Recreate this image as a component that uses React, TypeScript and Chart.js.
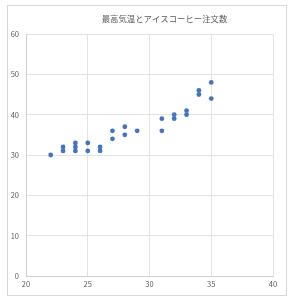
import React, { useEffect, useRef } from "react";
import { Chart, registerables } from "chart.js";

Chart.register(...registerables);

const TITLE = "最高気温とアイスコーヒー注文数";
const temperatures = [22, 23, 23, 24, 24, 24, 25, 25, 26, 26, 27, 27, 28, 28, 29, 31, 31, 32, 32, 33, 33, 34, 34, 35, 35];
const orders = [30, 32, 31, 33, 32, 31, 33, 31, 32, 31, 36, 34, 37, 35, 36, 39, 36, 40, 39, 41, 40, 46, 45, 48, 44];
const xTicks = [20, 25, 30, 35, 40];
const yTicks = [0, 10, 20, 30, 40, 50, 60];

const FONT = "'Noto Sans CJK JP', 'Noto Sans', sans-serif";

export default function App() {
  const ref = useRef<HTMLCanvasElement | null>(null);

  useEffect(() => {
    document.body.style.margin = "0";
    const canvas = ref.current;
    if (!canvas) return;

    const framePlugin = {
      id: "frame",
      beforeDraw(chart: any) {
        const ctx = chart.ctx;
        ctx.save();
        ctx.fillStyle = "#ffffff";
        ctx.fillRect(0, 0, chart.width, chart.height);
        ctx.strokeStyle = "#d9d9d9";
        ctx.lineWidth = 1;
        ctx.strokeRect(7.5, 5.5, 279, 290);
        ctx.restore();
      },
      afterDraw(chart: any) {
        const ctx = chart.ctx;
        ctx.save();
        ctx.fillStyle = "#595959";
        ctx.font = `8.4px ${FONT}`;
        ctx.textAlign = "center";
        ctx.textBaseline = "middle";
        const ca = chart.chartArea;
        ctx.fillText(TITLE, (ca.left + ca.right) / 2 + 15, 19);
        ctx.restore();
      },
    };

    const chart = new Chart(canvas, {
      type: "scatter",
      data: {
        datasets: [
          {
            label: TITLE,
            data: temperatures.map((t, i) => ({ x: t, y: orders[i] })),
            backgroundColor: "#4472C4",
            borderColor: "#4472C4",
            pointRadius: 2.4,
            pointHoverRadius: 2.4,
            borderWidth: 0,
          },
        ],
      },
      options: {
        animation: false,
        responsive: false,
        devicePixelRatio: 1,
        layout: { padding: { left: 0, right: 19, top: 34, bottom: 0 } },
        plugins: {
          legend: { display: false },
          title: { display: false },
          tooltip: { enabled: false },
        },
        scales: {
          x: {
            type: "linear",
            min: xTicks[0],
            max: xTicks[xTicks.length - 1],
            afterFit(scale: any) {
              scale.height = 26;
            },
            afterBuildTicks(scale: any) {
              scale.ticks = xTicks.map((v) => ({ value: v }));
            },
            grid: { color: "#e3e3e3", lineWidth: 1, drawTicks: false },
            border: { color: "#d0d0d0" },
            ticks: {
              padding: 4,
              color: "#595959",
              font: { size: 7.5, family: FONT },
              maxRotation: 0,
            },
          },
          y: {
            type: "linear",
            min: yTicks[0],
            max: yTicks[yTicks.length - 1],
            afterFit(scale: any) {
              scale.width = 26;
            },
            afterBuildTicks(scale: any) {
              scale.ticks = yTicks.map((v) => ({ value: v }));
            },
            grid: { color: "#e3e3e3", lineWidth: 1, drawTicks: false },
            border: { color: "#d0d0d0" },
            ticks: {
              padding: 7,
              color: "#595959",
              font: { size: 7.5, family: FONT },
            },
          },
        },
      },
      plugins: [framePlugin],
    });

    return () => chart.destroy();
  }, []);

  return (
    <div style={{ width: 292, height: 302 }}>
      <canvas ref={ref} width={292} height={302} style={{ display: "block", width: 292, height: 302 }} />
    </div>
  );
}
